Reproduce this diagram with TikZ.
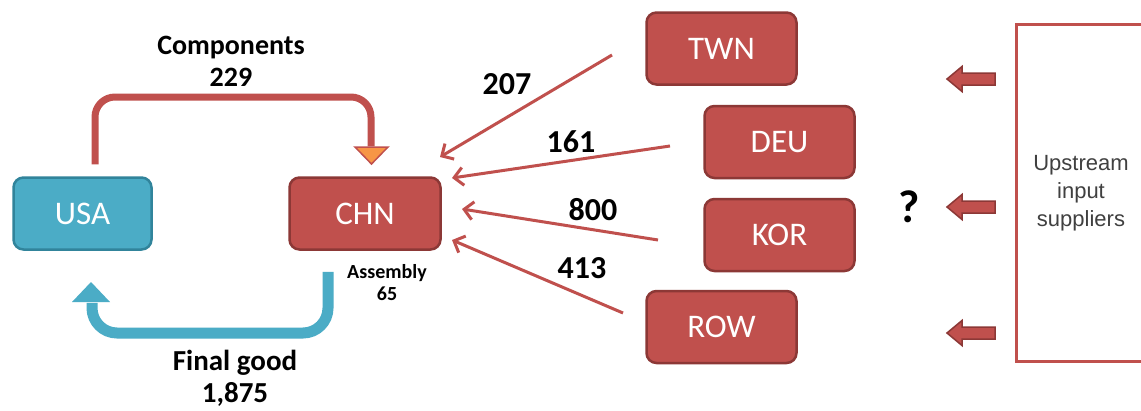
\documentclass[tikz,border=0pt]{standalone}
\usepackage{fontspec}
\setmainfont{Carlito}
\newfontfamily\arialf{Liberation Sans}
\usetikzlibrary{arrows.meta,calc}
\definecolor{cred}{HTML}{C0504D}
\definecolor{cdred}{HTML}{8C3836}
\definecolor{cblue}{HTML}{4BACC6}
\definecolor{cdblue}{HTML}{31849B}
\definecolor{corange}{HTML}{F79646}
\definecolor{cgray}{HTML}{404040}
\begin{document}
\begin{tikzpicture}[x=1pt,y=-1pt,
  boxbase/.style={line width=2.5pt, rounded corners=10pt, text=white,
    font=\fontsize{33}{36}\selectfont, inner sep=0pt, minimum height=72pt},
  redbox/.style={boxbase, draw=cdred, fill=cred, minimum width=150pt},
  bluebox/.style={boxbase, draw=cdblue, fill=cblue, minimum width=138pt},
  flowlabel/.style={font=\bfseries\fontsize{32}{34}\selectfont, align=center},
  thinarrow/.style={draw=cred, line width=3pt, -{Straight Barb[length=9pt,width=18pt]}},
  blockarrow/.style={fill=cred, draw=cdred, line width=1.5pt}
]
\clip (0,0) rectangle (1141,410);
\fill[white] (0,0) rectangle (1141,410);

% nodes
\node[bluebox] (usa) at (82.5,213.5) {USA};
\node[redbox, minimum width=151pt] (chn) at (365,213.5) {CHN};
\node[redbox] (twn) at (721.5,48.5) {TWN};
\node[redbox] (deu) at (779.5,142) {DEU};
\node[redbox] (kor) at (779.5,235) {KOR};
\node[redbox] (row) at (721.5,327) {ROW};
\node[draw=cred, line width=3pt, minimum width=129pt, minimum height=337pt, inner sep=0pt,
      text=cgray, align=center, font=\arialf\fontsize{22}{28}\selectfont] (up) at (1081,193)
      {\raisebox{-4pt}{\parbox{120pt}{\centering Upstream\\input\\suppliers}}};

% Components elbow arrow USA -> CHN
\coordinate (cA) at ($(usa.north)+(12.5,-12)$);
\coordinate (cB) at ($(chn.north)+(6,-30)$);
\draw[cred, line width=7pt, rounded corners=20pt] (cA) -- (95,97) -- (371,97) -- (cB);
\filldraw[fill=corange, draw=cred, line width=1.5pt] (355,147) -- (388,147) -- (371.5,164) -- cycle;
\node[font=\bfseries\fontsize{28}{32}\selectfont, align=center] (comp) at (231,61) {Components\\229};

% Final good arrow CHN -> USA
\coordinate (fA) at ($(chn.south)+(-37,21)$);
\coordinate (fB) at ($(usa.south)+(9.5,52)$);
\draw[cblue, line width=11pt, rounded corners=25pt] (fA) -- (328,333) -- (92,333) -- (fB);
\fill[cblue] (72,302) -- (110,302) -- (91,282) -- cycle;
\node[font=\bfseries\fontsize{29}{32}\selectfont, align=center] (fg) at (235,378) {Final good\\1,875};
\node[font=\bfseries\fontsize{20}{22}\selectfont, align=center] (asm) at (387,283) {Assembly\\65};

% inputs to CHN
\coordinate (t1) at (612,55);  \coordinate (t2) at (440,157);
\coordinate (d1) at (670,146); \coordinate (d2) at (452,178);
\coordinate (k1) at (658,240); \coordinate (k2) at (462,209);
\coordinate (r1) at (623,313); \coordinate (r2) at (452,240);
\draw[thinarrow] (t1) -- (t2);
\draw[thinarrow] (d1) -- (d2);
\draw[thinarrow] (k1) -- (k2);
\draw[thinarrow] (r1) -- (r2);
\node[flowlabel] (l207) at (507,84) {207};
\node[flowlabel] (l161) at (571,142) {161};
\node[flowlabel] (l800) at (593,210) {800};
\node[flowlabel] (l413) at (582,268) {413};

% question mark
\node[font=\bfseries\fontsize{46}{48}\selectfont] (q) at (909,207) {?};

% block arrows from upstream suppliers
\foreach \yy in {79,207,333}{
  \filldraw[blockarrow] (995,\yy-6) -- (962,\yy-6) -- (962,\yy-12.5) -- (947,\yy)
     -- (962,\yy+12.5) -- (962,\yy+6) -- (995,\yy+6) -- cycle;
}
\end{tikzpicture}
\end{document}
